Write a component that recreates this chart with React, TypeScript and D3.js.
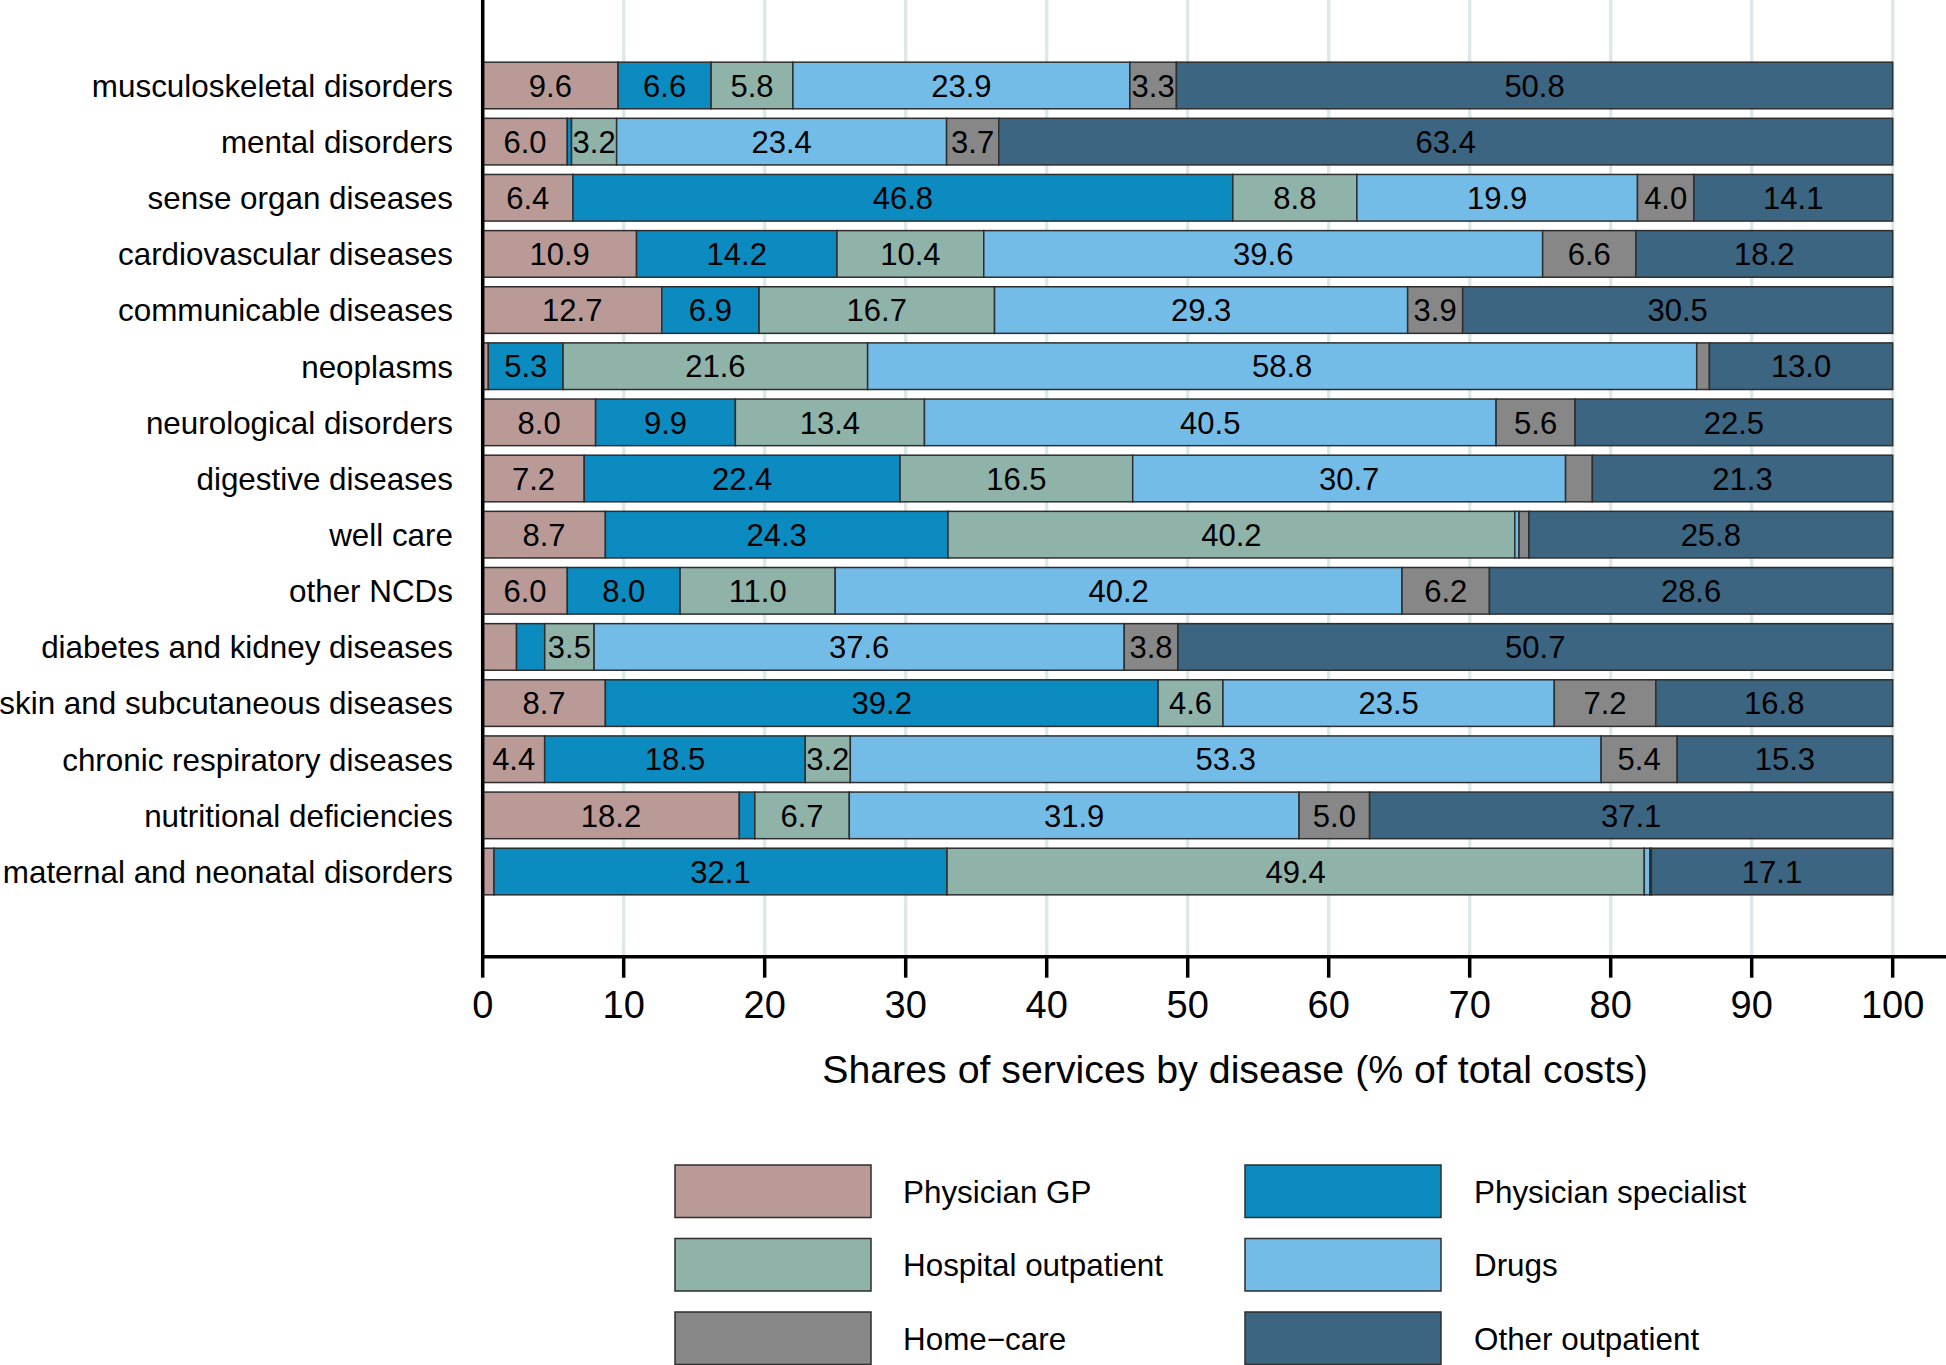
import React from "react";
import * as d3 from "d3";

const categories = [
  "musculoskeletal disorders",
  "mental disorders",
  "sense organ diseases",
  "cardiovascular diseases",
  "communicable diseases",
  "neoplasms",
  "neurological disorders",
  "digestive diseases",
  "well care",
  "other NCDs",
  "diabetes and kidney diseases",
  "skin and subcutaneous diseases",
  "chronic respiratory diseases",
  "nutritional deficiencies",
  "maternal and neonatal disorders",
];

const seriesNames = [
  "Physician GP",
  "Physician specialist",
  "Hospital outpatient",
  "Drugs",
  "Home\u2212care",
  "Other outpatient",
];

const physicianGP = [9.6, 6.0, 6.4, 10.9, 12.7, 0.4, 8.0, 7.2, 8.7, 6.0, 2.4, 8.7, 4.4, 18.2, 0.8];
const physicianSpecialist = [6.6, 0.3, 46.8, 14.2, 6.9, 5.3, 9.9, 22.4, 24.3, 8.0, 2.0, 39.2, 18.5, 1.1, 32.1];
const hospitalOutpatient = [5.8, 3.2, 8.8, 10.4, 16.7, 21.6, 13.4, 16.5, 40.2, 11.0, 3.5, 4.6, 3.2, 6.7, 49.4];
const drugs = [23.9, 23.4, 19.9, 39.6, 29.3, 58.8, 40.5, 30.7, 0.3, 40.2, 37.6, 23.5, 53.3, 31.9, 0.4];
const homeCare = [3.3, 3.7, 4.0, 6.6, 3.9, 0.9, 5.6, 1.9, 0.7, 6.2, 3.8, 7.2, 5.4, 5.0, 0.1];
const otherOutpatient = [50.8, 63.4, 14.1, 18.2, 30.5, 13.0, 22.5, 21.3, 25.8, 28.6, 50.7, 16.8, 15.3, 37.1, 17.1];

const xTicks = [0, 10, 20, 30, 40, 50, 60, 70, 80, 90, 100];

const seriesColors = ["#b99a97", "#0b8bbf", "#8fb3a9", "#73bce8", "#878787", "#3b6580"];

const W = 1946;
const H = 1365;
const FONT = "'Liberation Sans', Arial, Helvetica, sans-serif";

export default function App() {
  const seriesValues = [physicianGP, physicianSpecialist, hospitalOutpatient, drugs, homeCare, otherOutpatient];
  const rows = categories.map((c, i) => {
    const r: any = { category: c };
    seriesNames.forEach((s, k) => (r[s] = seriesValues[k][i]));
    return r;
  });
  // shares of total per row (rows sum to 100% up to rounding)
  const stacked = d3.stack<any>().keys(seriesNames).offset(d3.stackOffsetExpand)(rows);

  const x = d3.scaleLinear().domain([0, 100]).range([482.7, 1892.7]);
  const y = d3
    .scaleBand<string>()
    .domain(categories)
    .range([57.4, 899.6])
    .paddingInner(0.17)
    .paddingOuter(0.085);

  const axisY = 956.7;
  const bw = y.bandwidth();

  const legendCols = [675, 1245];
  const legendTextX = [903, 1474];
  const legendRowsY = [1165, 1238.5, 1312];
  const boxW = 196;
  const boxH = 52.5;

  return (
    <svg
      width={W}
      height={H}
      style={{ position: "absolute", left: 0, top: 0, background: "#fff" }}
      fontFamily={FONT}
    >
      <rect x={0} y={0} width={W} height={H} fill="#fff" />
      {/* gridlines */}
      {xTicks.map((t) => (
        <line key={"g" + t} x1={x(t)} x2={x(t)} y1={0} y2={axisY} stroke="#dde8e8" strokeWidth={3.5} />
      ))}
      {/* bars */}
      {stacked.map((s, k) => (
        <g key={s.key}>
          {s.map((d, i) => {
            const x0 = x(d[0] * 100);
            const x1 = x(d[1] * 100);
            const yy = y(categories[i]) as number;
            const v = seriesValues[k][i];
            return (
              <g key={i}>
                <rect
                  x={x0}
                  y={yy}
                  width={Math.max(0, x1 - x0)}
                  height={bw}
                  fill={seriesColors[k]}
                  stroke="#2e2e2e"
                  strokeWidth={1.5}
                />
                {v >= 3 && (
                  <text
                    x={(x0 + x1) / 2}
                    y={yy + bw / 2}
                    dy="0.36em"
                    textAnchor="middle"
                    fontSize={31}
                    fill="#000"
                  >
                    {v.toFixed(1)}
                  </text>
                )}
              </g>
            );
          })}
        </g>
      ))}
      {/* y labels */}
      {categories.map((c) => (
        <text
          key={c}
          x={453}
          y={(y(c) as number) + bw / 2}
          dy="0.36em"
          textAnchor="end"
          fontSize={31.4}
          fill="#000"
        >
          {c}
        </text>
      ))}
      {/* axes */}
      <line x1={x(0)} x2={x(0)} y1={0} y2={axisY} stroke="#000" strokeWidth={3.5} />
      <line x1={x(0) - 1.7} x2={W} y1={axisY} y2={axisY} stroke="#000" strokeWidth={3.5} />
      {xTicks.map((t) => (
        <g key={"t" + t}>
          <line x1={x(t)} x2={x(t)} y1={axisY} y2={axisY + 21} stroke="#000" strokeWidth={3.5} />
          <text x={x(t)} y={1018} textAnchor="middle" fontSize={38} fill="#000">
            {t}
          </text>
        </g>
      ))}
      <text x={1235} y={1083} textAnchor="middle" fontSize={39.3} fill="#000">
        Shares of services by disease (% of total costs)
      </text>
      {/* legend */}
      {seriesNames.map((s, k) => {
        const col = k % 2;
        const row = Math.floor(k / 2);
        return (
          <g key={"l" + s}>
            <rect
              x={legendCols[col]}
              y={legendRowsY[row]}
              width={boxW}
              height={boxH}
              fill={seriesColors[k]}
              stroke="#2e2e2e"
              strokeWidth={1.5}
            />
            <text
              x={legendTextX[col]}
              y={legendRowsY[row] + boxH / 2}
              dy="0.36em"
              fontSize={31.4}
              fill="#000"
            >
              {s}
            </text>
          </g>
        );
      })}
    </svg>
  );
}
